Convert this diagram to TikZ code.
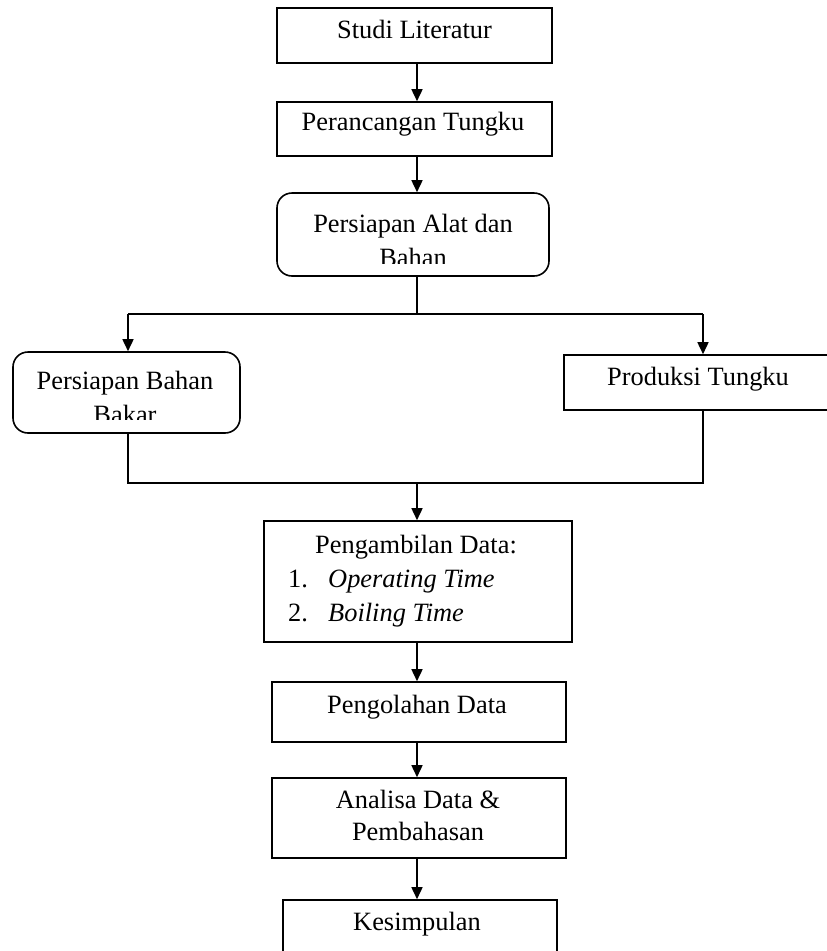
\documentclass[tikz,border=0pt]{standalone}
\usepackage{fontspec}
\setmainfont{Liberation Serif}
\usetikzlibrary{arrows.meta}
\begin{document}
\begin{tikzpicture}[x=1pt,y=-1pt,
  box/.style={draw, line width=1.6pt, rectangle, inner sep=0pt},
  rbox/.style={box, rounded corners=15pt},
  lbl/.style={anchor=base, inner sep=0pt, font=\fontsize{26.4}{34}\selectfont},
  conn/.style={line width=1.6pt},
  arr/.style={conn, -{Triangle[width=11pt,length=12pt]}}]
\useasboundingbox (0,0) rectangle (827,951);
\clip (0,0) rectangle (827,951);

% boxes
\node[box,  minimum width=275pt, minimum height=55pt] (b1) at (414.5,35.5) {};
\node[box,  minimum width=275pt, minimum height=54pt] (b2) at (414.5,129) {};
\node[rbox, minimum width=272pt, minimum height=83pt] (b3) at (413,234.5) {};
\node[rbox, minimum width=227pt, minimum height=81pt] (b4) at (126.5,392.5) {};
\node[box,  minimum width=271pt, minimum height=55pt] (b5) at (699.5,382.5) {};
\node[box,  minimum width=308pt, minimum height=121pt] (b6) at (418,581.5) {};
\node[box,  minimum width=294pt, minimum height=60pt] (b7) at (419,712) {};
\node[box,  minimum width=294pt, minimum height=80pt] (b8) at (419,818) {};
\node[box,  minimum width=274pt, minimum height=70pt] (b9) at (420,935) {};

% texts
\node[lbl] (t1) at (414.5,38) {Studi Literatur};
\node[lbl] (t2) at (413,130) {Perancangan Tungku};
\node[lbl] (t3a) at (413,232) {Persiapan Alat dan};
\begin{scope}
  \clip (277,193) rectangle (549,263);
  \node[lbl] (t3b) at (413,266) {Bahan};
\end{scope}
\node[lbl] (t4a) at (125,389) {Persiapan Bahan};
\begin{scope}
  \clip (13,352) rectangle (240,419);
  \node[lbl] (t4b) at (125,423) {Bakar};
\end{scope}
\node[lbl] (t5) at (698,385) {Produksi Tungku};
\node[lbl] (t6) at (416,553) {Pengambilan Data:};
\node[lbl, anchor=base west] (t6n1) at (288,587) {1.};
\node[lbl, anchor=base west] (t6i1) at (328,587) {\itshape Operating Time};
\node[lbl, anchor=base west] (t6n2) at (288,621) {2.};
\node[lbl, anchor=base west] (t6i2) at (328,621) {\itshape Boiling Time};
\node[lbl] (t7) at (417,713) {Pengolahan Data};
\node[lbl] (t8a) at (418,808) {Analisa Data \&};
\node[lbl] (t8b) at (418,840) {Pembahasan};
\node[lbl] (t9) at (417,930) {Kesimpulan};

% connector coordinates
\coordinate (col) at (417,0);
\coordinate (split) at (417,314);
\coordinate (sl) at (128,314);
\coordinate (sr) at (703,314);
\coordinate (jl) at (128,483);
\coordinate (jr) at (703,483);
\coordinate (jc) at (417,483);

% connectors
\draw[arr] (b1.south -| col) -- (b2.north -| col);
\draw[arr] (b2.south -| col) -- (b3.north -| col);
\draw[conn] (b3.south -| col) -- (split);
\draw[conn] (sl) -- (sr);
\draw[arr] (sl) -- (sl |- b4.north);
\draw[arr] (sr) -- (sr |- b5.north);
\draw[conn] (b4.south -| sl) -- (jl) -- (jr) -- (b5.south -| sr);
\draw[arr] (jc) -- (b6.north -| col);
\draw[arr] (b6.south -| col) -- (b7.north -| col);
\draw[arr] (b7.south -| col) -- (b8.north -| col);
\draw[arr] (b8.south -| col) -- (b9.north -| col);
\end{tikzpicture}
\end{document}
